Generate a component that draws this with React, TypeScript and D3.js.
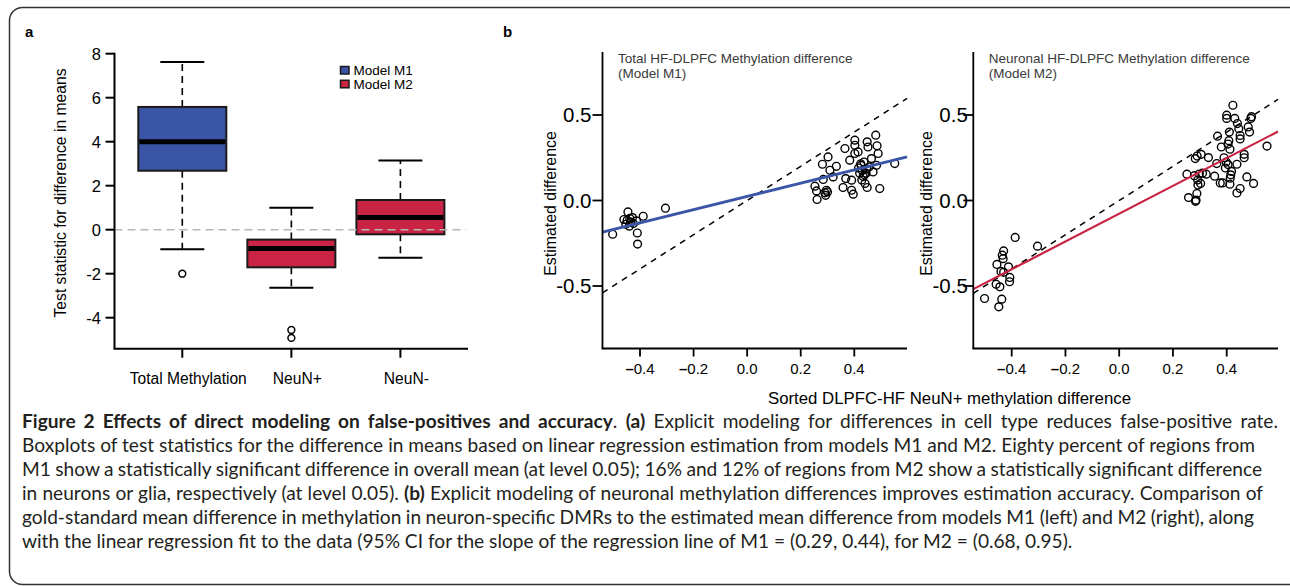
import React, { useEffect, useRef } from 'react';
import * as d3 from 'd3';

// panel a: boxplots of test statistics
const groups = ['Total Methylation', 'NeuN+', 'NeuN-'];
const groupModel = ['M1', 'M2', 'M2'];
const q1 = [2.68, -1.71, -0.21];
const median = [4.0, -0.86, 0.56];
const q3 = [5.58, -0.45, 1.35];
const whiskerLow = [-0.89, -2.64, -1.27];
const whiskerHigh = [7.62, 1.0, 3.15];
const outliers = [[-2.0], [-4.56, -4.92], []];
const boxTicks = [-4, -2, 0, 2, 4, 6, 8];
const legendLabels = ['Model M1', 'Model M2'];

// panel b: gold standard difference (x) vs estimated difference (y)
const m1Points = [
  [-0.502, -0.197], [-0.46, -0.111], [-0.448, -0.115], [-0.438, -0.105], [-0.428, -0.1],
  [-0.453, -0.139], [-0.44, -0.15], [-0.425, -0.135], [-0.413, -0.119], [-0.445, -0.067],
  [-0.41, -0.19], [-0.409, -0.255], [-0.388, -0.092], [-0.305, -0.045], [-0.434, -0.127],
  [0.253, 0.084], [0.259, 0.056], [0.261, 0.006], [0.281, 0.212], [0.284, 0.123],
  [0.29, 0.045], [0.293, 0.03], [0.296, 0.06], [0.3, 0.05], [0.302, 0.255],
  [0.309, 0.177], [0.321, 0.138], [0.333, 0.2], [0.358, 0.076], [0.365, 0.304],
  [0.368, 0.128], [0.383, 0.236], [0.39, 0.119], [0.39, 0.06], [0.396, 0.037],
  [0.402, 0.353], [0.402, 0.323], [0.402, 0.275], [0.414, 0.284], [0.416, 0.19],
  [0.42, 0.16], [0.424, 0.215], [0.428, 0.12], [0.43, 0.175], [0.433, 0.14],
  [0.436, 0.225], [0.44, 0.1], [0.444, 0.16], [0.446, 0.185], [0.448, 0.343],
  [0.448, 0.076], [0.451, 0.313], [0.455, 0.196], [0.464, 0.245], [0.47, 0.167],
  [0.48, 0.382], [0.485, 0.32], [0.489, 0.275], [0.483, 0.206], [0.495, 0.07],
  [0.551, 0.216], [0.425, 0.205], [0.438, 0.15],
];
const m2Points = [
  [-0.501, -0.573], [-0.387, -0.216], [-0.304, -0.267], [-0.43, -0.295], [-0.435, -0.32],
  [-0.432, -0.34], [-0.455, -0.374], [-0.412, -0.388], [-0.44, -0.415], [-0.43, -0.42],
  [-0.407, -0.45], [-0.408, -0.475], [-0.458, -0.49], [-0.444, -0.505], [-0.437, -0.577],
  [-0.448, -0.622],
  [0.252, 0.154], [0.258, 0.017], [0.286, 0.002], [0.284, -0.005], [0.289, 0.041],
  [0.283, 0.245], [0.29, 0.26], [0.305, 0.27], [0.28, 0.145], [0.292, 0.12],
  [0.298, 0.155], [0.303, 0.1], [0.31, 0.16], [0.293, 0.09], [0.324, 0.154],
  [0.332, 0.251], [0.355, 0.142], [0.366, 0.376], [0.363, 0.216], [0.376, 0.103],
  [0.38, 0.313], [0.385, 0.103], [0.39, 0.25], [0.395, 0.19], [0.398, 0.225],
  [0.4, 0.499], [0.4, 0.48], [0.405, 0.33], [0.408, 0.35], [0.41, 0.4],
  [0.412, 0.3], [0.405, 0.21], [0.415, 0.15], [0.413, 0.13], [0.418, 0.17],
  [0.412, 0.095], [0.423, 0.557], [0.43, 0.48], [0.44, 0.45], [0.445, 0.42],
  [0.45, 0.38], [0.438, 0.212], [0.438, 0.044], [0.45, 0.07], [0.45, 0.36],
  [0.465, 0.25], [0.465, 0.27], [0.475, 0.138], [0.48, 0.43], [0.49, 0.48],
  [0.492, 0.49], [0.485, 0.4], [0.5, 0.1], [0.55, 0.318],
];
// fitted regression lines: [intercept, slope]
const m1Fit = [0.024, 0.387];
const m2Fit = [-0.077, 0.813];
const scatterXTicks = [-0.4, -0.2, 0.0, 0.2, 0.4];
const scatterYTicks = [-0.5, 0.0, 0.5];

const captionLines = [
  [['Figure 2 Effects of direct modeling on false-positives and accuracy', true], ['. ', false], ['(a)', true], [' Explicit modeling for differences in cell type reduces false-positive rate.', false]],
  [['Boxplots of test statistics for the difference in means based on linear regression estimation from models M1 and M2. Eighty percent of regions from', false]],
  [['M1 show a statistically significant difference in overall mean (at level 0.05); 16% and 12% of regions from M2 show a statistically significant difference', false]],
  [['in neurons or glia, respectively (at level 0.05). ', false], ['(b)', true], [' Explicit modeling of neuronal methylation differences improves estimation accuracy. Comparison of', false]],
  [['gold-standard mean difference in methylation in neuron-specific DMRs to the estimated mean difference from models M1 (left) and M2 (right), along', false]],
  [['with the linear regression fit to the data (95% CI for the slope of the regression line of M1 = (0.29, 0.44), for M2 = (0.68, 0.95).', false]],
];
const captionEnds = [1278, 1255, 1262, 1263, 1254, 0];

const BLUE = '#3a55a5';
const RED = '#c92443';
const FONT = '"Liberation Sans", Arial, Helvetica, sans-serif';

function BoxPanel() {
  const x = d3.scalePoint<string>().domain(groups).range([182.3, 400.4]);
  const y = d3.scaleLinear().domain([-4, 8]).range([317.7, 53.7]);
  const bottom = 348.7;
  const left = 114.5;
  const boxW = 88;
  return (
    <g fontFamily={FONT}>
      <text x={25} y={37} fontSize={15} fontWeight="bold">a</text>
      {groups.map((g, i) => {
        const cx = x(g)!;
        const fill = groupModel[i] === 'M1' ? BLUE : RED;
        return (
          <g key={g}>
            <line x1={cx} x2={cx} y1={y(q3[i])} y2={y(whiskerHigh[i])} stroke="#000" strokeWidth={1.6} strokeDasharray="7,5" />
            <line x1={cx} x2={cx} y1={y(q1[i])} y2={y(whiskerLow[i])} stroke="#000" strokeWidth={1.6} strokeDasharray="7,5" />
            <line x1={cx - boxW / 4} x2={cx + boxW / 4} y1={y(whiskerHigh[i])} y2={y(whiskerHigh[i])} stroke="#000" strokeWidth={2} />
            <line x1={cx - boxW / 4} x2={cx + boxW / 4} y1={y(whiskerLow[i])} y2={y(whiskerLow[i])} stroke="#000" strokeWidth={2} />
            <rect x={cx - boxW / 2} y={y(q3[i])} width={boxW} height={y(q1[i]) - y(q3[i])} fill={fill} stroke="#1a1a1a" strokeWidth={2} />
            <line x1={cx - boxW / 2 + 1} x2={cx + boxW / 2 - 1} y1={y(median[i])} y2={y(median[i])} stroke="#000" strokeWidth={5} />
            {outliers[i].map((v, j) => (
              <circle key={j} cx={cx} cy={y(v)} r={3.4} fill="none" stroke="#000" strokeWidth={1.5} />
            ))}
            <line x1={cx} x2={cx} y1={bottom} y2={bottom + 9} stroke="#000" strokeWidth={2} />
            <text x={cx + 6} y={383.5} fontSize={15.6} textAnchor="middle">{g}</text>
          </g>
        );
      })}
      <line x1={left} x2={466} y1={y(0)} y2={y(0)} stroke="#b8b8b8" strokeWidth={1.6} strokeDasharray="8,5" />
      <line x1={left} x2={left} y1={y(8) - 1} y2={bottom} stroke="#000" strokeWidth={2} />
      <line x1={left - 1} x2={468} y1={bottom} y2={bottom} stroke="#000" strokeWidth={2} />
      {boxTicks.map(t => (
        <g key={t}>
          <line x1={left - 9} x2={left} y1={y(t)} y2={y(t)} stroke="#000" strokeWidth={2} />
          <text x={101} y={y(t) + 6} fontSize={16.5} textAnchor="end">{t}</text>
        </g>
      ))}
      <text transform={`translate(66,193) rotate(-90)`} fontSize={15.7} textAnchor="middle">
        Test statistic for difference in means
      </text>
      {legendLabels.map((l, i) => (
        <g key={l}>
          <rect x={340.5} y={66.5 + i * 13.8} width={8.5} height={7.5} fill={i === 0 ? BLUE : RED} stroke="#1a1a1a" strokeWidth={1.5} />
          <text x={353.5} y={75.3 + i * 13.8} fontSize={13.5}>{l}</text>
        </g>
      ))}
    </g>
  );
}

type ScatterProps = {
  points: number[][];
  fit: number[];
  color: string;
  lineW: number;
  left: number;
  right: number;
  tickPx: [number, number];
  title: string[];
  ylabX: number;
  labGap: number;
};

function Scatter({ points, fit, color, lineW, left, right, tickPx, title, ylabX, labGap }: ScatterProps) {
  const x = d3.scaleLinear().domain([-0.4, 0.4]).range(tickPx);
  const y = d3.scaleLinear().domain([-0.5, 0.5]).range([286, 115]);
  const top = 52;
  const bottom = 348.5;
  const xl = x.invert(left);
  const xr = x.invert(right);
  const fitLine = d3.line<number>().x(v => x(v)).y(v => y(fit[0] + fit[1] * v));
  const idLine = d3.line<number>().x(v => x(v)).y(v => y(v));
  return (
    <g fontFamily={FONT}>
      <path d={idLine([xl, xr])!} stroke="#000" strokeWidth={1.5} strokeDasharray="6,5.5" fill="none" />
      {points.map((p, i) => (
        <circle key={i} cx={x(p[0])} cy={y(p[1])} r={3.9} fill="none" stroke="#000" strokeWidth={1.4} />
      ))}
      <path d={fitLine([xl, xr])!} stroke={color} strokeWidth={lineW} fill="none" />
      <line x1={left} x2={left} y1={top} y2={bottom} stroke="#000" strokeWidth={1.8} />
      <line x1={left - 0.9} x2={right} y1={bottom} y2={bottom} stroke="#000" strokeWidth={1.8} />
      {scatterYTicks.map(t => (
        <g key={t}>
          <line x1={left - 10} x2={left} y1={y(t)} y2={y(t)} stroke="#000" strokeWidth={1.8} />
          <text x={left - labGap} y={y(t) + 7} fontSize={20.5} textAnchor="end">{d3.format('.1f')(t).replace('−', '-')}</text>
        </g>
      ))}
      {scatterXTicks.map(t => (
        <g key={t}>
          <line x1={x(t)} x2={x(t)} y1={bottom} y2={bottom + 8} stroke="#000" strokeWidth={1.8} />
          <text x={x(t)} y={373.5} fontSize={15} textAnchor="middle">
            {t < 0 && <tspan fontWeight="bold">–</tspan>}
            {d3.format('.1f')(Math.abs(t))}
          </text>
        </g>
      ))}
      {title.map((s, i) => (
        <text key={i} x={left + 15.5} y={62.5 + i * 15} fontSize={13.5} fill="#3a3a3a">{s}</text>
      ))}
      <text transform={`translate(${ylabX},${y(0) + 3}) rotate(-90)`} fontSize={15.9} textAnchor="middle">
        Estimated difference
      </text>
    </g>
  );
}

export default function App() {
  const capRef = useRef<SVGGElement>(null);

  useEffect(() => {
    // pick a caption size from the printed line widths, then fix each line with word spacing
    const cap = d3.select(capRef.current);
    const nodes = cap.selectAll<SVGTextElement, unknown>('text').nodes();
    const ratios = nodes
      .map((n, i) => (captionEnds[i] ? (captionEnds[i] - 22) / n.getComputedTextLength() : NaN))
      .filter(r => !isNaN(r));
    const size = 16 * (d3.median(ratios) || 1);
    cap.attr('font-size', size);
    nodes.forEach((n, i) => {
      const target = captionEnds[i];
      if (!target) return;
      const len = n.getComputedTextLength();
      const spaces = (n.textContent || '').split(' ').length - 1;
      d3.select(n).attr('word-spacing', (target - 22 - len) / spaces);
    });
  }, []);

  return (
    <svg width={1290} height={587} style={{ position: 'absolute', left: 0, top: 0, display: 'block', background: '#fff' }}>
      <rect x={9.5} y={7.5} width={1300} height={577} rx={13} fill="none" stroke="#333" strokeWidth={1.5} />
      <BoxPanel />
      <text x={503} y={37} fontSize={15} fontWeight="bold" fontFamily={FONT}>b</text>
      <Scatter
        points={m1Points}
        fit={m1Fit}
        color={BLUE}
        lineW={3}
        left={602.5}
        right={907}
        tickPx={[640, 854.3]}
        title={['Total HF-DLPFC Methylation difference', '(Model M1)']}
        ylabX={555.5}
        labGap={11}
      />
      <Scatter
        points={m2Points}
        fit={m2Fit}
        color={RED}
        lineW={2.2}
        left={973.3}
        right={1278}
        tickPx={[1011.7, 1226.7]}
        title={['Neuronal HF-DLPFC Methylation difference', '(Model M2)']}
        ylabX={932}
        labGap={5.5}
      />
      <text x={949.5} y={403.5} fontSize={16.8} textAnchor="middle" fontFamily={FONT}>
        Sorted DLPFC-HF NeuN+ methylation difference
      </text>
      <g ref={capRef} fontFamily='Lato, "Open Sans", sans-serif' fontSize={16} fill="#231f20">
        {captionLines.map((parts, i) => (
          <text key={i} x={22} y={428 + i * 24}>
            {parts.map((p, j) => (
              <tspan key={j} fontWeight={p[1] ? 'bold' : 'normal'}>{p[0] as string}</tspan>
            ))}
          </text>
        ))}
      </g>
    </svg>
  );
}
